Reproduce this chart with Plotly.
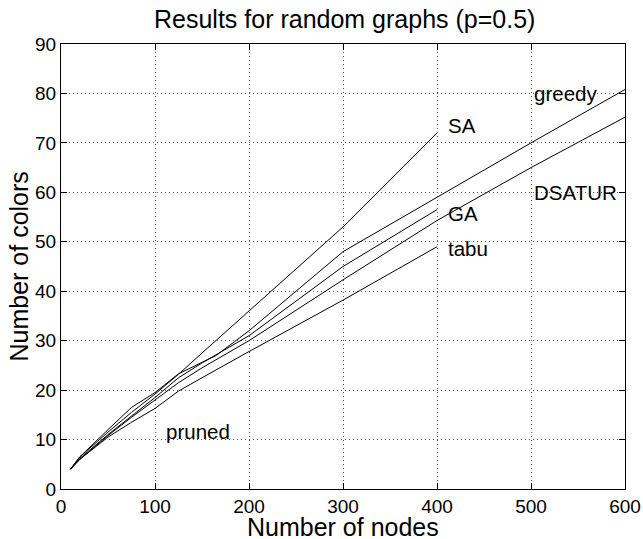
import plotly.graph_objects as go

sa_x = [10, 20, 50, 75, 100, 125, 150, 200, 300, 400]
sa_y = [4, 6.5, 11.5, 15.5, 19.2, 23.2, 27.5, 36, 53, 72]

greedy_x = [10, 20, 50, 75, 100, 125, 165, 200, 300, 400, 500, 600]
greedy_y = [4, 6.5, 12, 16.5, 19.5, 23.3, 27, 32, 48, 59, 70, 80.8]

ga_x = [10, 20, 50, 75, 100, 125, 150, 200, 300, 400]
ga_y = [4, 6.2, 11, 14.8, 18.5, 22.5, 25.5, 31, 45, 56.5]

dsatur_x = [10, 20, 50, 75, 100, 125, 150, 200, 300, 400, 500, 600]
dsatur_y = [4, 6, 10.8, 14.5, 18, 21.5, 24.5, 30, 42.3, 54.3, 65, 75.2]

tabu_x = [10, 20, 50, 75, 100, 125, 150, 200, 300, 400]
tabu_y = [4, 6, 10.5, 13.5, 16.3, 19.8, 22.5, 27.8, 38.2, 49]

labels = ["greedy", "SA", "DSATUR", "GA", "tabu", "pruned"]
label_x = [501, 410, 501, 410, 410, 110]
label_y = [79.9, 73.6, 59.9, 55.8, 48.7, 11.7]

x_ticks = [0, 100, 200, 300, 400, 500, 600]
y_ticks = [0, 10, 20, 30, 40, 50, 60, 70, 80, 90]

fig = go.Figure()
for xs, ys, name in [(sa_x, sa_y, "SA"), (greedy_x, greedy_y, "greedy"),
                     (ga_x, ga_y, "GA"), (dsatur_x, dsatur_y, "DSATUR"),
                     (tabu_x, tabu_y, "tabu")]:
    fig.add_trace(go.Scatter(x=xs, y=ys, mode="lines", name=name,
                             line=dict(color="black", width=1)))

for t, x, y in zip(labels, label_x, label_y):
    fig.add_annotation(x=x, y=y, text=t, showarrow=False, xanchor="left",
                       yanchor="middle", font=dict(size=20.5, color="black"))

# axis titles placed as annotations for precise positioning
fig.add_annotation(xref="paper", yref="paper", x=(18 - 61) / 564, y=0.5,
                   text="Number of colors", textangle=-90, showarrow=False,
                   xanchor="center", yanchor="middle",
                   font=dict(size=25, color="black"))
fig.add_annotation(xref="paper", yref="paper", x=0.5, y=-(527 - 489) / 445,
                   text="Number of nodes", showarrow=False,
                   xanchor="center", yanchor="middle",
                   font=dict(size=25, color="black"))

axis_common = dict(showline=True, mirror="ticks", linecolor="black", linewidth=1,
                   ticks="inside", ticklen=6, tickcolor="black", automargin=False,
                   showgrid=True, gridcolor="#555555", griddash="1px,3px", gridwidth=1,
                   zeroline=False, tickfont=dict(size=19, color="black"))

fig.update_xaxes(range=[0, 600], tickvals=x_ticks, **axis_common)
fig.update_yaxes(range=[0, 90], tickvals=y_ticks, **axis_common)

fig.update_layout(
    width=643, height=539,
    margin=dict(l=61, r=18, t=44, b=50),
    paper_bgcolor="white", plot_bgcolor="white",
    showlegend=False,
    font=dict(family="Liberation Sans, Arial, sans-serif", color="black"),
    title=dict(text="Results for random graphs (p=0.5)", x=0.503, xanchor="center",
               xref="paper", yref="container", y=1 - 19 / 539, yanchor="middle",
               font=dict(size=25, color="black")),
)

fig.write_html("out.html")
